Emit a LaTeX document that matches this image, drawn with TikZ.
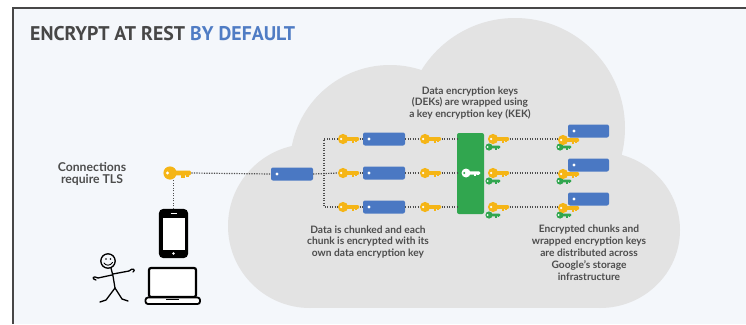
\documentclass[tikz,border=0pt]{standalone}
\usepackage{fontspec}
\setmainfont{Lato}
\newfontfamily\headfont{PT Sans}
\usetikzlibrary{calc}

\definecolor{bgpaper}{HTML}{F4F7FB}
\definecolor{cloudgray}{HTML}{E3E3E3}
\definecolor{chunkblue}{HTML}{4A78C3}
\definecolor{keygold}{HTML}{F5B516}
\definecolor{kekgreen}{HTML}{31A64F}
\definecolor{inkgray}{HTML}{4D4D4D}
\definecolor{titlegray}{HTML}{474747}
\definecolor{titleblue}{HTML}{4F7CC4}

\tikzstyle{chunk} = [rectangle, rounded corners=2pt, fill=chunkblue, minimum width=42pt, minimum height=13pt, inner sep=0pt,
  path picture={\fill[white] ([xshift=6pt]path picture bounding box.west) circle (1.6pt);}]
\tikzstyle{kekbox} = [rectangle, rounded corners=2pt, fill=kekgreen, minimum width=27pt, minimum height=81pt, inner sep=0pt]
\tikzstyle{dots} = [draw=inkgray, line width=1.2pt, dash pattern=on 1.2pt off 1.3pt]
\tikzstyle{note} = [text=inkgray, align=center, inner sep=0pt, font=\bfseries\fontsize{10.2}{11.9}\selectfont]
\tikzstyle{device} = [draw=black, line width=2.2pt, fill=white, rectangle, inner sep=0pt]

% a key: round head with a hole, shaft with two teeth
\tikzset{pics/key/.style={code={
  \fill (0,0) circle (6);
  \fill[rounded corners=1.2] (3,-2.2) rectangle (19,2.2);
  \fill (10,0) rectangle (13.5,4.2);
  \fill (14.5,0) rectangle (17,3.2);
  \fill[#1] (-2.3,0) circle (1.5);
  \coordinate (-l) at (-6,0);
  \coordinate (-r) at (19.5,0);
  \coordinate (-b) at (0,6);
}}}

\begin{document}
\begin{tikzpicture}[x=1pt, y=-1pt]
    \useasboundingbox (0,0) rectangle (746,324);
    \fill[white] (0,0) rectangle (746,324);
    \fill[bgpaper] (13,8) rectangle (746,324);
    \draw[titlegray, line width=1.6pt] (746,8) -- (13,8) -- (13,324);

    \node[anchor=base west, inner sep=0pt, text=titlegray, font=\headfont\bfseries\fontsize{19.8}{21}\selectfont]
        (title) at (30,40) {ENCRYPT AT REST \textcolor{titleblue}{BY DEFAULT}};

    % the cloud, one blob at a time
    \begin{scope}[cloudgray]
        \fill (515,128) circle (110);
        \fill (390,165) circle (100);
        \fill (310,226) circle (82);
        \fill (600,230) ellipse (80 and 78);
        \fill (310,140) rectangle (600,308);
    \end{scope}

    % user side
    \node[note, font=\bfseries\fontsize{12.2}{11.5}\selectfont] (tlsnote) at (92,174) {Connections\\require TLS};
    \pic[keygold, scale=1.1] (tls) at (170,173) {key=white};
    \node[device, fill=black, rounded corners=3.5pt, minimum width=27pt, minimum height=47pt] (phone) at (173.5,233.5) {};
    \fill[white] (162.5,217.5) rectangle (184.5,249.5);
    \draw[white, line width=0.8pt] (170.5,213.5) -- (176.5,213.5);
    \fill[white] (173.5,253.5) circle (1.3);
    \node[device, rounded corners=2pt, minimum width=47pt, minimum height=29pt] (laptop) at (172.5,282.5) {};
    \draw[black, line width=1.8pt, fill=white, rounded corners=2.5pt] (145.5,297.5) rectangle (200,304);
    \draw[black, line width=1pt] (166,299.5) -- (179,299.5);

    % stick figure
    \begin{scope}[line width=1.3pt, line cap=round, line join=round]
        \draw (108,261) circle (7.2);
        \fill (106,259) circle (0.9) (110.5,259) circle (0.9);
        \draw[line width=0.9pt] (104,263) .. controls (106,266) and (110,266) .. (112.5,262.5);
        \draw (111,268) -- (113,276) -- (115,288);
        \draw (115,288) -- (106,300) -- (100,302);
        \draw (115,288) -- (122,299) -- (128,301);
        \draw (112,275) -- (98,278) .. controls (93,275) and (91,279) .. (96,280);
        \draw (113,274) -- (129,271) .. controls (133,267) and (136,270) .. (133,272);
    \end{scope}

    % inside the cloud
    \node[chunk] (c0) at (292,174) {};
    \coordinate (j) at (324,173);
    \node[kekbox] (kek) at (470.5,173.5) {};
    \pic[white, scale=.75] (kekkey) at (466,173) {key=kekgreen};
    \foreach \r/\y in {1/139, 2/173, 3/207} {
        \pic[keygold, scale=.85] (dk\r) at (343,\y) {key=white};
        \node[chunk] (dc\r) at (384,\y) {};
        \pic[keygold, scale=.85] (dw\r) at (425,\y) {key=white};
        \pic[kekgreen, scale=.6] (wg\r) at (489,\y+8) {key=white};
        \pic[keygold, scale=.85] (wy\r) at (493,\y) {key=white};
        \node[chunk, minimum width=41pt] (fc\r) at (588.5,\y-8) {};
        \pic[kekgreen, scale=.6] (fg\r) at (560,\y+8) {key=white};
        \pic[keygold, scale=.85] (fy\r) at (563,\y+1) {key=white};
        \draw[dots] (dk\r-r) -- (dc\r.west);
        \draw[dots] (dc\r.east) -- (dw\r-l);
        \draw[dots] (dw\r-r) -- (kek.west |- dw\r-r);
        \draw[dots] (wy\r-r) -- (fy\r-l |- wy\r-r);
    }
    \draw[dots] (tls-r) -- (c0.west);
    \draw[dots] (phone.north) -- (phone.north |- tls-b);
    \draw[dots] (c0.east) -- (dk2-l);
    \draw[dots] (dk1-l) -| (j |- dk3-l) -- (dk3-l);

    \node[note] (deknote) at (470,103) {Data encryption keys\\(DEKs) are wrapped using\\a key encryption key (KEK)};
    \node[note] (chunknote) at (368,242) {Data is chunked and each\\chunk is encrypted with its\\own data encryption key};
    \node[note] (storenote) at (589,253) {Encrypted chunks and\\wrapped encryption keys\\are distributed across\\Google's storage\\infrastructure};
\end{tikzpicture}
\end{document}
